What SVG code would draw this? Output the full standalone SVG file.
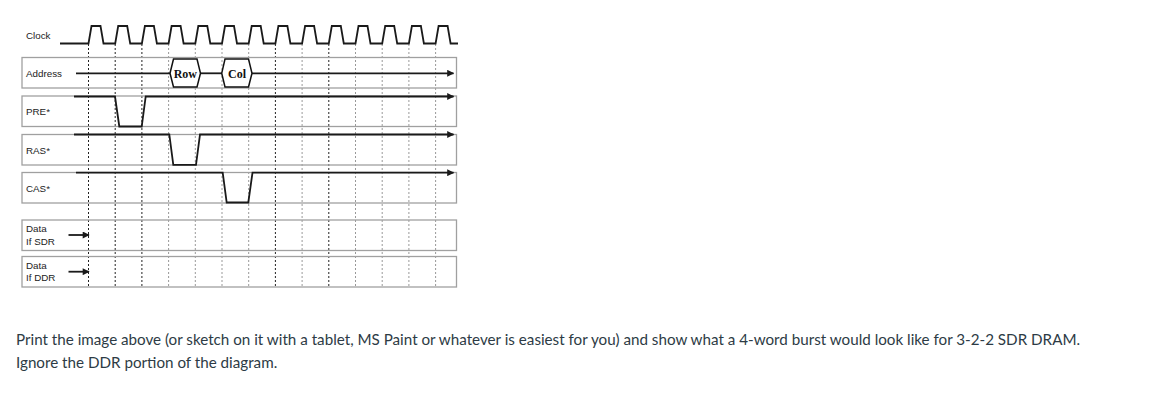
<svg xmlns="http://www.w3.org/2000/svg" width="1172" height="401" viewBox="0 0 1172 401">
<style>
.lbl{font-family:"Liberation Sans",Arial,sans-serif;font-size:9.8px;fill:#222}
.box{fill:none;stroke:#a0a0a0;stroke-width:1.3}
.sig{fill:none;stroke:#1a1a1a;stroke-width:1.8;stroke-linejoin:miter}
.dd{stroke:#222;stroke-width:1;stroke-dasharray:2,2}
.dl{stroke:#999;stroke-width:1;stroke-dasharray:2,2}
.hex{fill:#fff;stroke:#111;stroke-width:1.5}
.ht{font-family:"Liberation Serif","Times New Roman",serif;font-size:12px;font-weight:bold;fill:#111}
.body{font-family:Lato,"Open Sans",sans-serif;font-size:15.2px;fill:#2d3b45}
</style>
<defs>
<marker id="ah" viewBox="0 0 10 10" refX="9" refY="5" markerWidth="8" markerHeight="7" markerUnits="userSpaceOnUse" orient="auto">
<path d="M0,0 L10,5 L0,10 z" fill="#1a1a1a"/>
</marker>
<marker id="ah2" viewBox="0 0 10 10" refX="9" refY="5" markerWidth="8" markerHeight="7" markerUnits="userSpaceOnUse" orient="auto">
<path d="M0,0 L10,5 L0,10 z" fill="#1a1a1a"/>
</marker>
</defs>
<rect width="1172" height="401" fill="#fff"/>

<g id="grid">
<line class="dd" x1="88.5" y1="44" x2="88.5" y2="288"/>
<line class="dd" x1="115.2" y1="44" x2="115.2" y2="288"/>
<line class="dd" x1="141.9" y1="44" x2="141.9" y2="288"/>
<line class="dl" x1="168.6" y1="44" x2="168.6" y2="288"/>
<line class="dl" x1="195.3" y1="44" x2="195.3" y2="288"/>
<line class="dl" x1="222" y1="44" x2="222" y2="288"/>
<line class="dl" x1="248.7" y1="44" x2="248.7" y2="288"/>
<line class="dd" x1="275.4" y1="44" x2="275.4" y2="288"/>
<line class="dl" x1="302.1" y1="44" x2="302.1" y2="288"/>
<line class="dd" x1="328.8" y1="44" x2="328.8" y2="288"/>
<line class="dl" x1="355.5" y1="44" x2="355.5" y2="288"/>
<line class="dl" x1="382.2" y1="44" x2="382.2" y2="288"/>
<line class="dl" x1="408.9" y1="44" x2="408.9" y2="288"/>
<line class="dl" x1="435.6" y1="44" x2="435.6" y2="288"/>
</g>

<g id="clock">
<text class="lbl" x="26" y="39">Clock</text>
<path class="sig" d="M60,43.5 H88.5 l3,-17.5 h9 l3,17.5 H115.2 l3,-17.5 h9 l3,17.5 H141.9 l3,-17.5 h9 l3,17.5 H168.6 l3,-17.5 h9 l3,17.5 H195.3 l3,-17.5 h9 l3,17.5 H222 l3,-17.5 h9 l3,17.5 H248.7 l3,-17.5 h9 l3,17.5 H275.4 l3,-17.5 h9 l3,17.5 H302.1 l3,-17.5 h9 l3,17.5 H328.8 l3,-17.5 h9 l3,17.5 H355.5 l3,-17.5 h9 l3,17.5 H382.2 l3,-17.5 h9 l3,17.5 H408.9 l3,-17.5 h9 l3,17.5 H435.6 l3,-17.5 h9 l3,17.5 H458"/>
</g>

<g id="address">
<rect class="box" x="22" y="57.5" width="434.5" height="30.5"/>
<text class="lbl" x="26" y="76.5">Address</text>
</g>
<g id="pre">
<rect class="box" x="22" y="96" width="434.5" height="30.5"/>
<text class="lbl" x="26" y="115">PRE*</text>
</g>
<g id="ras">
<rect class="box" x="22" y="134.5" width="434.5" height="30.5"/>
<text class="lbl" x="26" y="153.5">RAS*</text>
</g>
<g id="cas">
<rect class="box" x="22" y="172.5" width="434.5" height="30.5"/>
<text class="lbl" x="26" y="191.5">CAS*</text>
</g>
<g id="data-sdr">
<rect class="box" x="22" y="220" width="434.5" height="30.5"/>
<text class="lbl" x="26" y="231.5">Data</text>
<text class="lbl" x="26" y="245">If SDR</text>
</g>
<g id="data-ddr">
<rect class="box" x="22" y="256.5" width="434.5" height="30.5"/>
<text class="lbl" x="26" y="268.5">Data</text>
<text class="lbl" x="26" y="281">If DDR</text>
</g>

<g id="connectors">
<line class="sig" x1="76" y1="73.3" x2="170" y2="73.3"/>
<line class="sig" x1="200.5" y1="73.3" x2="221.7" y2="73.3"/>
<line class="sig" x1="252" y1="73.3" x2="453.5" y2="73.3" marker-end="url(#ah)"/>
<path class="sig" d="M74,96.5 H115 L119.3,126.5 H141.7 L145.7,96.5 H453.5" marker-end="url(#ah)"/>
<path class="sig" d="M74,134.5 H169.3 L173.3,164.8 H196 L200,134.5 H453.5" marker-end="url(#ah)"/>
<path class="sig" d="M76,172.7 H222.7 L226.7,202.5 H248.3 L252.5,172.7 H453.5" marker-end="url(#ah)"/>
<line class="sig" x1="68.5" y1="235" x2="89" y2="235" marker-end="url(#ah2)"/>
<line class="sig" x1="68.5" y1="271.7" x2="89" y2="271.7" marker-end="url(#ah2)"/>
</g>

<g id="row">
<path class="hex" d="M170,73.3 L173.5,59 H197 L200.5,73.3 L197,87 H173.5 Z"/>
<text class="ht" x="185.3" y="77.5" text-anchor="middle">Row</text>
</g>
<g id="col">
<path class="hex" d="M221.7,73.3 L225,59 H248.5 L252,73.3 L248.5,87 H225 Z"/>
<text class="ht" x="237" y="77.5" text-anchor="middle">Col</text>
</g>

<g id="caption">
<text class="body" x="16" y="344.5">Print the image above (or sketch on it with a tablet, MS Paint or whatever is easiest for you) and show what a 4-word burst would look like for 3-2-2 SDR DRAM.</text>
<text class="body" x="16" y="367.5">Ignore the DDR portion of the diagram.</text>
</g>
</svg>
